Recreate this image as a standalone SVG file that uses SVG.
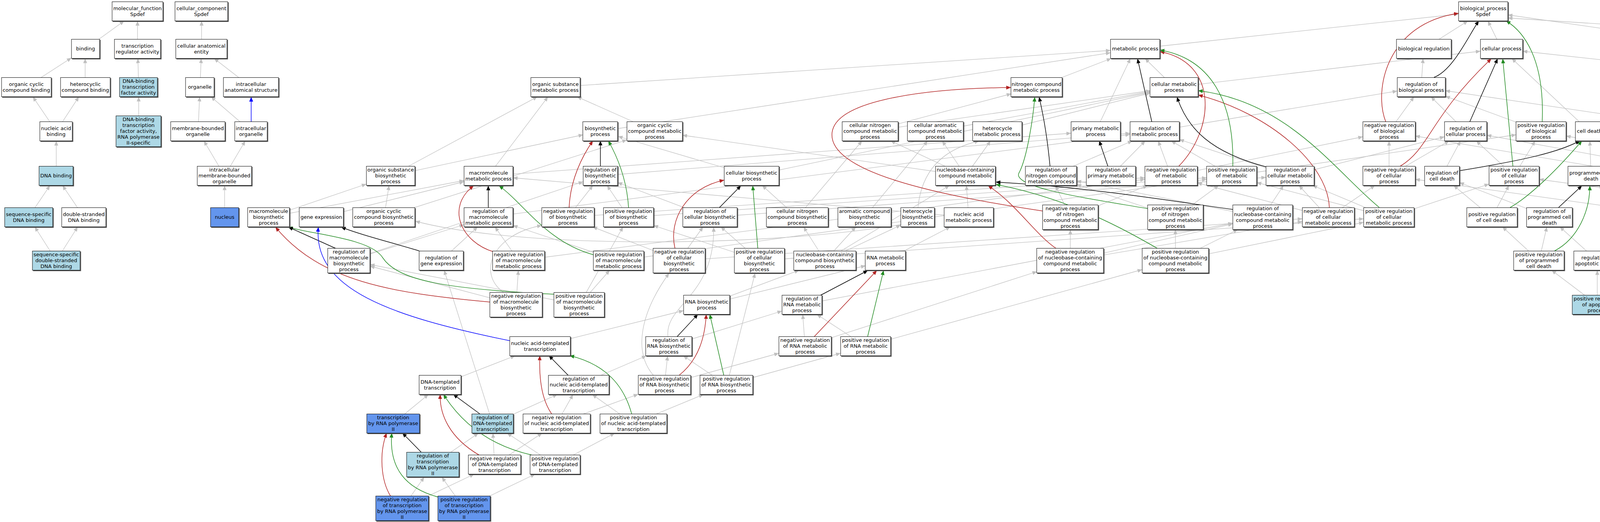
<svg xmlns="http://www.w3.org/2000/svg" width="5919" height="1336" viewBox="0 0 5919 1336">
<defs>
<style>
.b{stroke:#000;stroke-width:1;filter:url(#sh)}
.w{fill:#fff}.lb{fill:#add8e6}.cb{fill:#6495ed}
text{font-family:"DejaVu Sans","Liberation Sans",sans-serif;font-size:13px;text-anchor:middle;fill:#000}
#edges path{fill:none;stroke-width:1.3}
#edges .g{stroke:#c0c0c0;marker-end:url(#mg)}
#edges .k{stroke:#000;marker-end:url(#mk);stroke-width:1.5}
#edges .r{stroke:#b22222;marker-end:url(#mr);stroke-width:1.5}
#edges .gr{stroke:#228b22;marker-end:url(#mgr);stroke-width:1.5}
#edges .bl{stroke:#0000ff;marker-end:url(#mb);stroke-width:1.5}
</style>
<filter id="sh" x="-5%" y="-5%" width="115%" height="125%"><feDropShadow dx="2" dy="2" stdDeviation="0" flood-color="#555" flood-opacity="1"/></filter>
<marker id="mg" viewBox="0 0 12 10" refX="12" refY="5" markerWidth="12" markerHeight="10" markerUnits="userSpaceOnUse" orient="auto"><path d="M0,0L12,5L0,10z" fill="#c0c0c0"/></marker>
<marker id="mk" viewBox="0 0 12 10" refX="12" refY="5" markerWidth="12" markerHeight="10" markerUnits="userSpaceOnUse" orient="auto"><path d="M0,0L12,5L0,10z" fill="#000"/></marker>
<marker id="mr" viewBox="0 0 12 10" refX="12" refY="5" markerWidth="12" markerHeight="10" markerUnits="userSpaceOnUse" orient="auto"><path d="M0,0L12,5L0,10z" fill="#b22222"/></marker>
<marker id="mgr" viewBox="0 0 12 10" refX="12" refY="5" markerWidth="12" markerHeight="10" markerUnits="userSpaceOnUse" orient="auto"><path d="M0,0L12,5L0,10z" fill="#228b22"/></marker>
<marker id="mb" viewBox="0 0 12 10" refX="12" refY="5" markerWidth="12" markerHeight="10" markerUnits="userSpaceOnUse" orient="auto"><path d="M0,0L12,5L0,10z" fill="#0000ff"/></marker>
</defs>
<rect width="5919" height="1336" fill="#fff"/>
<g id="edges">
<path class="g" d="M219,125L318,53.5"/>
<path class="g" d="M352,125L352,53.5"/>
<path class="g" d="M67,223L183,148"/>
<path class="g" d="M218,223L218,149.5"/>
<path class="g" d="M355,223L353,149.5"/>
<path class="g" d="M144,336L84,247.5"/>
<path class="g" d="M144,336L202,247.5"/>
<path class="g" d="M355,336L355,247.5"/>
<path class="g" d="M144,450L144,360.5"/>
<path class="g" d="M73,556L128,474.5"/>
<path class="g" d="M215,556L160,474.5"/>
<path class="g" d="M144,667L89,580.5"/>
<path class="g" d="M144,667L199,580.5"/>
<path class="g" d="M516,125L516,53.5"/>
<path class="g" d="M512,223L515,149.5"/>
<path class="g" d="M643,223L548,149.5"/>
<path class="g" d="M507,336L511,247.5"/>
<path class="g" d="M643,336L540,247.5"/>
<path class="g" d="M575,450L522,360.5"/>
<path class="g" d="M575,450L628,360.5"/>
<path class="g" d="M575,556L575,474.5"/>
<path class="g" d="M3645,125L3758,53.5"/>
<path class="g" d="M3844,125L3809,53.5"/>
<path class="g" d="M2906,125L3734,36"/>
<path class="g" d="M4466,125L3860,38"/>
<path class="g" d="M5089,125L3860,46"/>
<path class="g" d="M3638,223L3643,149.5"/>
<path class="g" d="M2654,223L2845,149.5"/>
<path class="g" d="M3006,223L2931,149.5"/>
<path class="g" d="M3006,223L3790,131"/>
<path class="g" d="M1422,223L2843,129"/>
<path class="g" d="M2805,336L2894,149.5"/>
<path class="g" d="M1537,336L2843,135"/>
<path class="g" d="M4740,223L3898,131"/>
<path class="g" d="M4740,223L4519,144"/>
<path class="g" d="M5370,223L4519,131"/>
<path class="g" d="M4069,336L3870,149.5"/>
<path class="g" d="M3556,336L3620,247.5"/>
<path class="g" d="M3752,336L3663,247.5"/>
<path class="g" d="M3945,336L3700,246"/>
<path class="g" d="M3556,450L3556,360.5"/>
<path class="g" d="M3556,450L3710,360.5"/>
<path class="g" d="M3876,450L3779,360.5"/>
<path class="g" d="M3876,450L3930,360.5"/>
<path class="g" d="M2956,336L3577,233"/>
<path class="g" d="M4403,336L3700,232"/>
<path class="g" d="M4222,450L4364,360.5"/>
<path class="g" d="M4222,450L3623,348"/>
<path class="g" d="M4577,450L4440,360.5"/>
<path class="g" d="M4577,450L4009,348"/>
<path class="g" d="M3691,450L3739,360.5"/>
<path class="g" d="M3819,556L3721,474.5"/>
<path class="g" d="M3819,556L3863,474.5"/>
<path class="g" d="M4073,450L4070,360.5"/>
<path class="g" d="M3966,556L3736,467"/>
<path class="g" d="M3940,667L3960,580.5"/>
<path class="g" d="M3940,667L3846,580.5"/>
<path class="g" d="M4161,556L4093,474.5"/>
<path class="g" d="M4089,667L3993,580.5"/>
<path class="g" d="M4089,780L4089,691.5"/>
<path class="g" d="M4089,780L3972,691.5"/>
<path class="g" d="M4740,336L4740,247.5"/>
<path class="g" d="M4376,450L4397,360.5"/>
<path class="g" d="M4376,450L3806,346"/>
<path class="g" d="M4317,556L4362,474.5"/>
<path class="g" d="M4317,556L4244,474.5"/>
<path class="g" d="M4317,556L3623,459"/>
<path class="g" d="M4656,556L4439,474"/>
<path class="g" d="M4656,556L4595,474.5"/>
<path class="g" d="M4656,556L3940,459"/>
<path class="g" d="M4486,556L4401,474.5"/>
<path class="g" d="M4486,667L4486,580.5"/>
<path class="g" d="M4486,667L4354,580.5"/>
<path class="g" d="M4656,667L4524,580.5"/>
<path class="g" d="M4656,667L4656,580.5"/>
<path class="g" d="M4949,667L4852,474.5"/>
<path class="g" d="M5099,450L4779,247.5"/>
<path class="g" d="M5025,886L4998,804.5"/>
<path class="g" d="M5033,985L5027,910.5"/>
<path class="g" d="M5150,1084L5062,1009.5"/>
<path class="g" d="M5150,1084L5159,804.5"/>
<path class="g" d="M5265,336L5347,247.5"/>
<path class="g" d="M5265,450L5265,360.5"/>
<path class="g" d="M5418,450L5375,247.5"/>
<path class="g" d="M5588,336L5417,247.5"/>
<path class="g" d="M5528,556L5553,474.5"/>
<path class="g" d="M5686,556L5712,474.5"/>
<path class="g" d="M5833,556L5624,474.5"/>
<path class="g" d="M5686,556L5464,468"/>
<path class="g" d="M5468,667L5424,474.5"/>
<path class="g" d="M5683,667L5684,580.5"/>
<path class="g" d="M5282,667L5120,474.5"/>
<path class="g" d="M5148,667L5108,580.5"/>
<path class="g" d="M5160,780L5151,691.5"/>
<path class="g" d="M5313,780L5289,691.5"/>
<path class="g" d="M5254,886L5299,804.5"/>
<path class="g" d="M5410,886L5335,804.5"/>
<path class="g" d="M5598,780L5213,683"/>
<path class="g" d="M5454,780L5279,474.5"/>
<path class="g" d="M5740,780L5695,691.5"/>
<path class="g" d="M5584,886L5484,804.5"/>
<path class="g" d="M1676,336L1477,247.5"/>
<path class="g" d="M1000,450L1376,247.5"/>
<path class="g" d="M1000,450L1493,345"/>
<path class="g" d="M1250,450L1403,247.5"/>
<path class="g" d="M1250,450L2742,341"/>
<path class="g" d="M688,556L1188,462"/>
<path class="g" d="M688,556L938,471"/>
<path class="g" d="M822,556L1188,465"/>
<path class="g" d="M983,556L996,474.5"/>
<path class="g" d="M983,556L1605,358"/>
<path class="g" d="M2213,556L2375,360.5"/>
<path class="g" d="M2041,556L2207,360.5"/>
<path class="g" d="M2041,556L1951,474.5"/>
<path class="g" d="M2112,667L2057,580.5"/>
<path class="g" d="M2112,667L2191,580.5"/>
<path class="g" d="M2112,667L2306,576"/>
<path class="g" d="M2112,667L2431,474.5"/>
<path class="g" d="M1809,780L2046,691.5"/>
<path class="g" d="M1809,780L2216,680"/>
<path class="g" d="M1382,886L1750,795"/>
<path class="g" d="M1127,985L1319,910.5"/>
<path class="g" d="M1006,1084L1097,1009.5"/>
<path class="g" d="M1924,450L1582,349"/>
<path class="g" d="M1924,450L2945,236"/>
<path class="g" d="M2228,336L2589,240"/>
<path class="g" d="M2228,336L2945,232"/>
<path class="g" d="M2395,336L2945,234"/>
<path class="g" d="M2472,450L1747,346"/>
<path class="g" d="M2553,336L2945,238"/>
<path class="g" d="M2472,450L2280,360.5"/>
<path class="g" d="M2472,450L2412,360.5"/>
<path class="g" d="M2472,450L2536,360.5"/>
<path class="g" d="M2480,556L2474,474.5"/>
<path class="g" d="M2480,556L1313,455"/>
<path class="g" d="M2267,667L2433,580.5"/>
<path class="g" d="M1250,556L2893,344"/>
<path class="g" d="M1328,667L1267,580.5"/>
<path class="g" d="M1328,667L2931,459"/>
<path class="g" d="M1583,667L1313,577"/>
<path class="g" d="M1583,667L3089,459"/>
<path class="g" d="M1129,667L1223,580.5"/>
<path class="g" d="M893,667L1188,575"/>
<path class="g" d="M893,667L1493,465"/>
<path class="g" d="M1321,780L947,681"/>
<path class="g" d="M1321,780L1327,691.5"/>
<path class="g" d="M1483,780L947,677"/>
<path class="g" d="M1483,780L1561,691.5"/>
<path class="g" d="M1483,780L1595,580.5"/>
<path class="g" d="M1537,450L2893,341"/>
<path class="g" d="M1454,556L1518,474.5"/>
<path class="g" d="M1454,556L2931,455"/>
<path class="g" d="M1609,556L1554,474.5"/>
<path class="g" d="M1609,556L3089,455"/>
<path class="g" d="M1817,556L1581,467"/>
<path class="g" d="M1817,556L3241,454"/>
<path class="g" d="M1738,667L1800,580.5"/>
<path class="g" d="M1738,667L1517,580.5"/>
<path class="g" d="M1738,667L3334,560"/>
<path class="g" d="M1944,667L1845,580.5"/>
<path class="g" d="M1944,667L1673,577"/>
<path class="g" d="M1944,667L3491,560"/>
<path class="g" d="M1712,886L2002,796"/>
<path class="g" d="M1701,985L1709,910.5"/>
<path class="g" d="M1701,985L1994,904"/>
<path class="g" d="M1860,985L1749,910.5"/>
<path class="g" d="M1860,985L2152,904"/>
<path class="g" d="M1481,985L1655,910.5"/>
<path class="g" d="M1425,1084L1467,1009.5"/>
<path class="g" d="M1425,1084L1634,1009"/>
<path class="g" d="M1621,1084L1516,1009.5"/>
<path class="g" d="M1621,1084L1801,1009.5"/>
<path class="g" d="M1261,1084L1427,1009.5"/>
<path class="g" d="M1261,1084L1137,691.5"/>
<path class="g" d="M1266,1189L1262,1108.5"/>
<path class="g" d="M1266,1189L1388,1108.5"/>
<path class="g" d="M1421,1189L1298,1108.5"/>
<path class="g" d="M1421,1189L1574,1108.5"/>
<path class="g" d="M1108,1189L1225,1108.5"/>
<path class="g" d="M1030,1301L1086,1221"/>
<path class="g" d="M1030,1301L1214,1213.5"/>
<path class="g" d="M1188,1301L1131,1221"/>
<path class="g" d="M1188,1301L1370,1213.5"/>
<path class="g" d="M2053,780L3156,571"/>
<path class="g" d="M2061,886L2055,804.5"/>
<path class="g" d="M2061,886L2655,695"/>
<path class="g" d="M2216,886L2091,804.5"/>
<path class="g" d="M2216,886L2924,690"/>
<path class="g" d="M2690,450L2899,360.5"/>
<path class="g" d="M2844,450L2932,360.5"/>
<path class="g" d="M2998,450L2965,360.5"/>
<path class="g" d="M2998,450L3489,350"/>
<path class="g" d="M3153,450L2998,360.5"/>
<path class="g" d="M3153,450L3881,345"/>
<path class="g" d="M3302,450L3019,357"/>
<path class="g" d="M3302,450L3698,350"/>
<path class="g" d="M2740,556L2702,474.5"/>
<path class="g" d="M2740,556L2938,474.5"/>
<path class="g" d="M3009,556L2756,472"/>
<path class="g" d="M3009,556L3120,474.5"/>
<path class="g" d="M3232,556L3286,474.5"/>
<path class="g" d="M3232,556L2756,463"/>
<path class="g" d="M2740,667L2740,587.5"/>
<path class="g" d="M2740,667L3156,573"/>
<path class="g" d="M2740,667L3334,567"/>
<path class="g" d="M3009,667L3009,587.5"/>
<path class="g" d="M3009,667L3169,587.5"/>
<path class="g" d="M3009,667L3491,569"/>
<path class="g" d="M3400,556L3325,474.5"/>
<path class="g" d="M3400,556L3065,468"/>
<path class="g" d="M3400,556L3520,474.5"/>
<path class="g" d="M3555,556L3360,474.5"/>
<path class="g" d="M3555,556L3217,467"/>
<path class="g" d="M3555,556L3812,471"/>
<path class="g" d="M5107,425C5150,330 5200,280 5300,243"/>
<path class="g" d="M5573,313C5500,240 5350,160 5157,128"/>
<path class="g" d="M5516,425C5470,400 5420,330 5384,248"/>
<path class="g" d="M5665,428C5500,400 5470,300 5405,248"/>
<path class="g" d="M5864,642C5920,600 5940,500 5784,459"/>
<path class="g" d="M4935,756C4840,700 4870,640 4920,590C4980,530 4950,420 4804,359"/>
<path class="g" d="M4963,875C4890,850 4870,780 4944,722C5000,700 5060,660 5091,581"/>
<path class="g" d="M4840,425C4845,350 4820,290 4782,248"/>
<path class="g" d="M5077,531C5040,460 4950,400 4804,360"/>
<path class="g" d="M1710,862C1700,780 1830,760 1827,581"/>
<path class="g" d="M1673,961C1620,900 1640,800 1713,699"/>
<path class="g" d="M1867,961L1933,699"/>
<path class="g" d="M1290,749C1220,700 1260,600 1387,577"/>
<path class="g" d="M2350,531C2360,430 2420,380 2507,361"/>
<path class="g" d="M2306,575C1900,640 1300,630 1063,566"/>
<path class="r" d="M3548,313C3515,230 3550,60 3734,34"/>
<path class="r" d="M3018,425C3110,330 3120,160 2969,132"/>
<path class="r" d="M3585,425C3660,380 3660,300 3818,150"/>
<path class="r" d="M3403,531C3400,420 3250,290 3067,243"/>
<path class="r" d="M2669,540C2400,500 2120,440 2130,340C2140,250 2400,226 2588,224"/>
<path class="r" d="M2704,636C2650,600 2600,520 2529,475"/>
<path class="r" d="M1265,645C1180,620 1140,530 1213,475"/>
<path class="r" d="M1254,773C1000,750 820,720 705,581"/>
<path class="r" d="M1457,531C1460,460 1490,400 1518,360"/>
<path class="r" d="M1728,636C1710,560 1760,480 1854,461"/>
<path class="r" d="M1738,961C1790,920 1805,860 1808,804"/>
<path class="r" d="M2084,862L2245,692"/>
<path class="r" d="M1412,1059C1385,1020 1380,960 1382,910"/>
<path class="r" d="M1227,1165C1150,1120 1125,1060 1127,1009"/>
<path class="r" d="M1000,1270C975,1230 970,1160 990,1108"/>
<path class="r" d="M4240,425L4450,150"/>
<path class="r" d="M4375,531C4500,505 4660,500 4729,361"/>
<path class="r" d="M4554,642C4650,620 4760,600 4825,475"/>
<path class="gr" d="M3948,313C3955,150 3900,80 3855,53"/>
<path class="gr" d="M3156,425C3160,260 3100,150 2969,128"/>
<path class="gr" d="M3873,425L3847,150"/>
<path class="gr" d="M3531,531C3420,440 3300,260 3067,232"/>
<path class="gr" d="M2938,534C2800,510 2580,480 2610,440C2630,400 2645,300 2649,248"/>
<path class="gr" d="M2974,642C2900,600 2750,510 2549,472"/>
<path class="gr" d="M1519,652C1400,620 1340,520 1277,475"/>
<path class="gr" d="M1418,753C1150,740 1020,720 980,660C950,610 800,600 737,581"/>
<path class="gr" d="M1609,531C1605,460 1580,400 1557,360"/>
<path class="gr" d="M1940,636L1927,475"/>
<path class="gr" d="M1853,961L1817,804"/>
<path class="gr" d="M2221,862L2262,692"/>
<path class="gr" d="M1617,1059C1590,960 1520,925 1458,910"/>
<path class="gr" d="M1363,1165C1250,1140 1180,1080 1135,1009"/>
<path class="gr" d="M1121,1272C1040,1250 995,1200 1003,1108"/>
<path class="gr" d="M3866,531C3920,500 3990,430 4050,360"/>
<path class="gr" d="M3980,642C4040,610 4070,540 4070,475"/>
<path class="gr" d="M4120,756C4170,720 4180,640 4168,581"/>
<path class="gr" d="M4569,425L4475,150"/>
<path class="gr" d="M4669,531L4734,361"/>
<path class="gr" d="M4720,642C4800,610 4830,530 4835,475"/>
<path class="k" d="M3671,198C3720,180 3760,90 3786,53"/>
<path class="k" d="M2949,313L2912,150"/>
<path class="k" d="M3762,313L3834,150"/>
<path class="k" d="M3241,427C3100,390 3040,330 3013,248"/>
<path class="k" d="M2688,425C2680,340 2670,290 2660,248"/>
<path class="k" d="M2836,425L2814,360"/>
<path class="k" d="M3156,536C3000,515 2800,480 2549,466"/>
<path class="k" d="M1250,531L1250,475"/>
<path class="k" d="M860,636L738,581"/>
<path class="k" d="M1073,642C1000,620 920,600 873,581"/>
<path class="k" d="M1537,425L1537,360"/>
<path class="k" d="M1842,531L1897,475"/>
<path class="k" d="M1733,862L1787,804"/>
<path class="k" d="M2100,756L2222,692"/>
<path class="k" d="M1455,961L1405,910"/>
<path class="k" d="M1228,1059L1160,1009"/>
<path class="k" d="M1078,1157L1030,1108"/>
<path class="k" d="M3736,437C3900,410 3990,390 4045,360"/>
<path class="k" d="M3990,531L4050,475"/>
<path class="k" d="M4103,642L4145,581"/>
<path class="k" d="M4410,313L4465,150"/>
<path class="k" d="M4439,432L4677,358"/>
<path class="k" d="M4549,531L4767,470"/>
<path class="bl" d="M643,313L643,248"/>
<path class="bl" d="M1305,872C1000,810 800,740 815,581"/>
<path class="bl" d="M4819,425L4762,361"/>
<path class="bl" d="M5040,431L4803,356"/>
<path class="bl" d="M5138,531L5232,475"/>
<path class="bl" d="M5244,642L5141,581"/>
<path class="bl" d="M4981,642L5064,581"/>
<path class="bl" d="M5277,756L5187,692"/>
<path class="bl" d="M5234,862L5184,805"/>
<path class="bl" d="M5201,1059L5533,910"/>
<path class="bl" d="M5088,872L5409,805"/>
<path class="bl" d="M5054,756L5406,687"/>
<path class="bl" d="M5566,425L5583,361"/>
<path class="bl" d="M5693,425L5616,361"/>
<path class="bl" d="M5479,642L5514,581"/>
<path class="bl" d="M5513,642L5639,581"/>
<path class="bl" d="M5651,642L5563,581"/>
<path class="bl" d="M5835,642L5834,581"/>
<path class="bl" d="M5458,756L5464,692"/>
<path class="bl" d="M5651,756L5790,692"/>
<path class="bl" d="M5619,862L5703,805"/>
<path class="bl" d="M5449,862L5554,805"/>
</g>
<g id="nodes">
<g id="n-MF"><rect class="b w" x="287" y="4.5" width="130" height="49"/><text x="352" y="25.5">molecular_function<tspan x="352" dy="15">Spdef</tspan></text></g>
<g id="n-CC"><rect class="b w" x="448" y="4.5" width="135" height="49"/><text x="515.5" y="25.5">cellular_component<tspan x="515.5" dy="15">Spdef</tspan></text></g>
<g id="n-BP"><rect class="b w" x="3734" y="4.5" width="126" height="49"/><text x="3797" y="25.5">biological_process<tspan x="3797" dy="15">Spdef</tspan></text></g>
<g id="n-BIND"><rect class="b w" x="183" y="100.5" width="72" height="49"/><text x="219" y="129">binding</text></g>
<g id="n-TRA"><rect class="b w" x="293" y="100.5" width="118" height="49"/><text x="352" y="121.5">transcription<tspan x="352" dy="15">regulator activity</tspan></text></g>
<g id="n-CAE"><rect class="b w" x="450" y="100.5" width="131" height="49"/><text x="515.5" y="121.5">cellular anatomical<tspan x="515.5" dy="15">entity</tspan></text></g>
<g id="n-MP"><rect class="b w" x="2843" y="100.5" width="126" height="49"/><text x="2906" y="129">metabolic process</text></g>
<g id="n-BR"><rect class="b w" x="3575" y="100.5" width="140" height="49"/><text x="3645" y="129">biological regulation</text></g>
<g id="n-CP"><rect class="b w" x="3790" y="100.5" width="108" height="49"/><text x="3844" y="129">cellular process</text></g>
<g id="n-DP"><rect class="b w" x="4414" y="100.5" width="105" height="49"/><text x="4466.5" y="121.5">developmental<tspan x="4466.5" dy="15">process</tspan></text></g>
<g id="n-MOP"><rect class="b w" x="5022" y="100.5" width="134" height="49"/><text x="5089" y="121.5">multicellular<tspan x="5089" dy="15">organismal process</tspan></text></g>
<g id="n-OCCB"><rect class="b w" x="4" y="198.5" width="127" height="49"/><text x="67.5" y="219.5">organic cyclic<tspan x="67.5" dy="15">compound binding</tspan></text></g>
<g id="n-HCB"><rect class="b w" x="155" y="198.5" width="127" height="49"/><text x="218.5" y="219.5">heterocyclic<tspan x="218.5" dy="15">compound binding</tspan></text></g>
<g id="n-DBTFA"><rect class="b lb" x="306" y="198.5" width="97" height="49"/><text x="354.5" y="212">DNA-binding<tspan x="354.5" dy="15">transcription</tspan><tspan x="354.5" dy="15">factor activity</tspan></text></g>
<g id="n-ORG"><rect class="b w" x="475" y="198.5" width="73" height="49"/><text x="511.5" y="227">organelle</text></g>
<g id="n-IAS"><rect class="b w" x="572" y="198.5" width="141" height="49"/><text x="642.5" y="219.5">intracellular<tspan x="642.5" dy="15">anatomical structure</tspan></text></g>
<g id="n-OSMP"><rect class="b w" x="1359" y="198.5" width="126" height="49"/><text x="1422" y="219.5">organic substance<tspan x="1422" dy="15">metabolic process</tspan></text></g>
<g id="n-NCMP"><rect class="b w" x="2588" y="198.5" width="131" height="49"/><text x="2653.5" y="219.5">nitrogen compound<tspan x="2653.5" dy="15">metabolic process</tspan></text></g>
<g id="n-CMP"><rect class="b w" x="2944" y="198.5" width="123" height="49"/><text x="3005.5" y="219.5">cellular metabolic<tspan x="3005.5" dy="15">process</tspan></text></g>
<g id="n-RBP"><rect class="b w" x="3577" y="198.5" width="123" height="49"/><text x="3638.5" y="219.5">regulation of<tspan x="3638.5" dy="15">biological process</tspan></text></g>
<g id="n-CDP"><rect class="b w" x="4662" y="198.5" width="156" height="49"/><text x="4740" y="219.5">cellular developmental<tspan x="4740" dy="15">process</tspan></text></g>
<g id="n-ASD"><rect class="b w" x="5300" y="198.5" width="141" height="49"/><text x="5370.5" y="219.5">anatomical structure<tspan x="5370.5" dy="15">development</tspan></text></g>
<g id="n-NAB"><rect class="b w" x="102" y="311.5" width="83" height="49"/><text x="143.5" y="332.5">nucleic acid<tspan x="143.5" dy="15">binding</tspan></text></g>
<g id="n-DBTFA2"><rect class="b lb" x="297" y="296.5" width="115" height="79"/><text x="354.5" y="310">DNA-binding<tspan x="354.5" dy="15">transcription</tspan><tspan x="354.5" dy="15">factor activity,</tspan><tspan x="354.5" dy="15">RNA polymerase</tspan><tspan x="354.5" dy="15">II-specific</tspan></text></g>
<g id="n-MBO"><rect class="b w" x="437" y="311.5" width="139" height="49"/><text x="506.5" y="332.5">membrane-bounded<tspan x="506.5" dy="15">organelle</tspan></text></g>
<g id="n-IO"><rect class="b w" x="601" y="311.5" width="83" height="49"/><text x="642.5" y="332.5">intracellular<tspan x="642.5" dy="15">organelle</tspan></text></g>
<g id="n-BSP"><rect class="b w" x="1492" y="311.5" width="89" height="49"/><text x="1536.5" y="332.5">biosynthetic<tspan x="1536.5" dy="15">process</tspan></text></g>
<g id="n-OCCMP"><rect class="b w" x="1605" y="311.5" width="142" height="49"/><text x="1676" y="325">organic cyclic<tspan x="1676" dy="15">compound metabolic</tspan><tspan x="1676" dy="15">process</tspan></text></g>
<g id="n-CNCMP"><rect class="b w" x="2156" y="311.5" width="143" height="49"/><text x="2227.5" y="325">cellular nitrogen<tspan x="2227.5" dy="15">compound metabolic</tspan><tspan x="2227.5" dy="15">process</tspan></text></g>
<g id="n-CACMP"><rect class="b w" x="2323" y="311.5" width="143" height="49"/><text x="2394.5" y="325">cellular aromatic<tspan x="2394.5" dy="15">compound metabolic</tspan><tspan x="2394.5" dy="15">process</tspan></text></g>
<g id="n-HMP"><rect class="b w" x="2490" y="311.5" width="126" height="49"/><text x="2553" y="332.5">heterocycle<tspan x="2553" dy="15">metabolic process</tspan></text></g>
<g id="n-PMP"><rect class="b w" x="2742" y="311.5" width="126" height="49"/><text x="2805" y="332.5">primary metabolic<tspan x="2805" dy="15">process</tspan></text></g>
<g id="n-RMP"><rect class="b w" x="2893" y="311.5" width="126" height="49"/><text x="2956" y="332.5">regulation of<tspan x="2956" dy="15">metabolic process</tspan></text></g>
<g id="n-NRBP"><rect class="b w" x="3489" y="311.5" width="134" height="49"/><text x="3556" y="325">negative regulation<tspan x="3556" dy="15">of biological</tspan><tspan x="3556" dy="15">process</tspan></text></g>
<g id="n-RCP"><rect class="b w" x="3698" y="311.5" width="108" height="49"/><text x="3752" y="332.5">regulation of<tspan x="3752" dy="15">cellular process</tspan></text></g>
<g id="n-PRBP"><rect class="b w" x="3881" y="311.5" width="128" height="49"/><text x="3945" y="325">positive regulation<tspan x="3945" dy="15">of biological</tspan><tspan x="3945" dy="15">process</tspan></text></g>
<g id="n-CD"><rect class="b w" x="4033" y="311.5" width="72" height="49"/><text x="4069" y="340">cell death</text></g>
<g id="n-RDP"><rect class="b w" x="4351" y="311.5" width="105" height="49"/><text x="4403.5" y="325">regulation of<tspan x="4403.5" dy="15">developmental</tspan><tspan x="4403.5" dy="15">process</tspan></text></g>
<g id="n-CDIFF"><rect class="b lb" x="4677" y="311.5" width="126" height="49"/><text x="4740" y="340">cell differentiation</text></g>
<g id="n-TD"><rect class="b w" x="5198" y="311.5" width="134" height="49"/><text x="5265" y="340">tissue development</text></g>
<g id="n-MOD"><rect class="b w" x="5509" y="311.5" width="158" height="49"/><text x="5588" y="332.5">multicellular<tspan x="5588" dy="15">organism development</tspan></text></g>
<g id="n-DNAB"><rect class="b lb" x="100" y="425.5" width="87" height="49"/><text x="143.5" y="454">DNA binding</text></g>
<g id="n-IMBO"><rect class="b w" x="505" y="425.5" width="139" height="49"/><text x="574.5" y="439">intracellular<tspan x="574.5" dy="15">membrane-bounded</tspan><tspan x="574.5" dy="15">organelle</tspan></text></g>
<g id="n-OSBP"><rect class="b w" x="938" y="425.5" width="124" height="49"/><text x="1000" y="439">organic substance<tspan x="1000" dy="15">biosynthetic</tspan><tspan x="1000" dy="15">process</tspan></text></g>
<g id="n-MMP"><rect class="b w" x="1188" y="425.5" width="125" height="49"/><text x="1250.5" y="446.5">macromolecule<tspan x="1250.5" dy="15">metabolic process</tspan></text></g>
<g id="n-RBSP"><rect class="b w" x="1493" y="425.5" width="88" height="49"/><text x="1537" y="439">regulation of<tspan x="1537" dy="15">biosynthetic</tspan><tspan x="1537" dy="15">process</tspan></text></g>
<g id="n-CBSP"><rect class="b w" x="1854" y="425.5" width="140" height="49"/><text x="1924" y="446.5">cellular biosynthetic<tspan x="1924" dy="15">process</tspan></text></g>
<g id="n-NCCMP"><rect class="b w" x="2395" y="425.5" width="153" height="49"/><text x="2471.5" y="439">nucleobase-containing<tspan x="2471.5" dy="15">compound metabolic</tspan><tspan x="2471.5" dy="15">process</tspan></text></g>
<g id="n-RNCMP"><rect class="b w" x="2625" y="425.5" width="131" height="49"/><text x="2690.5" y="439">regulation of<tspan x="2690.5" dy="15">nitrogen compound</tspan><tspan x="2690.5" dy="15">metabolic process</tspan></text></g>
<g id="n-RPMP"><rect class="b w" x="2781" y="425.5" width="126" height="49"/><text x="2844" y="439">regulation of<tspan x="2844" dy="15">primary metabolic</tspan><tspan x="2844" dy="15">process</tspan></text></g>
<g id="n-NRMP"><rect class="b w" x="2931" y="425.5" width="134" height="49"/><text x="2998" y="439">negative regulation<tspan x="2998" dy="15">of metabolic</tspan><tspan x="2998" dy="15">process</tspan></text></g>
<g id="n-PRMP"><rect class="b w" x="3089" y="425.5" width="128" height="49"/><text x="3153" y="439">positive regulation<tspan x="3153" dy="15">of metabolic</tspan><tspan x="3153" dy="15">process</tspan></text></g>
<g id="n-RCMP"><rect class="b w" x="3241" y="425.5" width="123" height="49"/><text x="3302.5" y="439">regulation of<tspan x="3302.5" dy="15">cellular metabolic</tspan><tspan x="3302.5" dy="15">process</tspan></text></g>
<g id="n-NRCP"><rect class="b w" x="3489" y="425.5" width="134" height="49"/><text x="3556" y="439">negative regulation<tspan x="3556" dy="15">of cellular</tspan><tspan x="3556" dy="15">process</tspan></text></g>
<g id="n-RCD"><rect class="b w" x="3647" y="425.5" width="89" height="49"/><text x="3691.5" y="446.5">regulation of<tspan x="3691.5" dy="15">cell death</tspan></text></g>
<g id="n-PRCP"><rect class="b w" x="3812" y="425.5" width="128" height="49"/><text x="3876" y="439">positive regulation<tspan x="3876" dy="15">of cellular</tspan><tspan x="3876" dy="15">process</tspan></text></g>
<g id="n-PCD"><rect class="b w" x="4014" y="425.5" width="118" height="49"/><text x="4073" y="446.5">programmed cell<tspan x="4073" dy="15">death</tspan></text></g>
<g id="n-NRDP"><rect class="b w" x="4156" y="425.5" width="133" height="49"/><text x="4222.5" y="439">negative regulation<tspan x="4222.5" dy="15">of developmental</tspan><tspan x="4222.5" dy="15">process</tspan></text></g>
<g id="n-RCDIFF"><rect class="b w" x="4313" y="425.5" width="126" height="49"/><text x="4376" y="446.5">regulation of<tspan x="4376" dy="15">cell differentiation</tspan></text></g>
<g id="n-PRDP"><rect class="b w" x="4513" y="425.5" width="128" height="49"/><text x="4577" y="439">positive regulation<tspan x="4577" dy="15">of developmental</tspan><tspan x="4577" dy="15">process</tspan></text></g>
<g id="n-CFC"><rect class="b cb" x="4767" y="425.5" width="146" height="49"/><text x="4840" y="454">cell fate commitment</text></g>
<g id="n-CDEV"><rect class="b w" x="5040" y="425.5" width="118" height="49"/><text x="5099" y="454">cell development</text></g>
<g id="n-ED"><rect class="b w" x="5182" y="425.5" width="166" height="49"/><text x="5265" y="454">epithelium development</text></g>
<g id="n-AOD"><rect class="b w" x="5372" y="425.5" width="92" height="49"/><text x="5418" y="446.5">animal organ<tspan x="5418" dy="15">development</tspan></text></g>
<g id="n-SD"><rect class="b w" x="5489" y="425.5" width="144" height="49"/><text x="5561" y="454">system development</text></g>
<g id="n-TUBD"><rect class="b w" x="5657" y="425.5" width="126" height="49"/><text x="5720" y="454">tube development</text></g>
<g id="n-SSDB"><rect class="b lb" x="12" y="531.5" width="123" height="49"/><text x="73.5" y="552.5">sequence-specific<tspan x="73.5" dy="15">DNA binding</tspan></text></g>
<g id="n-DSDB"><rect class="b w" x="158" y="531.5" width="113" height="49"/><text x="214.5" y="552.5">double-stranded<tspan x="214.5" dy="15">DNA binding</tspan></text></g>
<g id="n-NUC"><rect class="b cb" x="539" y="531.5" width="72" height="49"/><text x="575" y="560">nucleus</text></g>
<g id="n-MBSP"><rect class="b w" x="634" y="531.5" width="107" height="49"/><text x="687.5" y="545">macromolecule<tspan x="687.5" dy="15">biosynthetic</tspan><tspan x="687.5" dy="15">process</tspan></text></g>
<g id="n-GE"><rect class="b w" x="766" y="531.5" width="113" height="49"/><text x="822.5" y="560">gene expression</text></g>
<g id="n-OCCBSP"><rect class="b w" x="903" y="531.5" width="159" height="49"/><text x="982.5" y="545">organic cyclic<tspan x="982.5" dy="15">compound biosynthetic</tspan><tspan x="982.5" dy="15">process</tspan></text></g>
<g id="n-RMMP"><rect class="b w" x="1188" y="531.5" width="125" height="49"/><text x="1250.5" y="545">regulation of<tspan x="1250.5" dy="15">macromolecule</tspan><tspan x="1250.5" dy="15">metabolic process</tspan></text></g>
<g id="n-NRBSP"><rect class="b w" x="1387" y="531.5" width="134" height="49"/><text x="1454" y="545">negative regulation<tspan x="1454" dy="15">of biosynthetic</tspan><tspan x="1454" dy="15">process</tspan></text></g>
<g id="n-PRBSP"><rect class="b w" x="1545" y="531.5" width="128" height="49"/><text x="1609" y="545">positive regulation<tspan x="1609" dy="15">of biosynthetic</tspan><tspan x="1609" dy="15">process</tspan></text></g>
<g id="n-RCBSP"><rect class="b w" x="1748" y="531.5" width="139" height="49"/><text x="1817.5" y="545">regulation of<tspan x="1817.5" dy="15">cellular biosynthetic</tspan><tspan x="1817.5" dy="15">process</tspan></text></g>
<g id="n-CNCBSP"><rect class="b w" x="1962" y="531.5" width="158" height="49"/><text x="2041" y="545">cellular nitrogen<tspan x="2041" dy="15">compound biosynthetic</tspan><tspan x="2041" dy="15">process</tspan></text></g>
<g id="n-ACBSP"><rect class="b w" x="2145" y="531.5" width="136" height="49"/><text x="2213" y="545">aromatic compound<tspan x="2213" dy="15">biosynthetic</tspan><tspan x="2213" dy="15">process</tspan></text></g>
<g id="n-HBSP"><rect class="b w" x="2306" y="531.5" width="86" height="49"/><text x="2349" y="545">heterocycle<tspan x="2349" dy="15">biosynthetic</tspan><tspan x="2349" dy="15">process</tspan></text></g>
<g id="n-NAMP"><rect class="b w" x="2417" y="531.5" width="126" height="49"/><text x="2480" y="552.5">nucleic acid<tspan x="2480" dy="15">metabolic process</tspan></text></g>
<g id="n-NRNCMP"><rect class="b w" x="2669" y="524.5" width="142" height="63"/><text x="2740" y="537.5">negative regulation<tspan x="2740" dy="15">of nitrogen</tspan><tspan x="2740" dy="15">compound metabolic</tspan><tspan x="2740" dy="15">process</tspan></text></g>
<g id="n-PRNCMP"><rect class="b w" x="2938" y="524.5" width="142" height="63"/><text x="3009" y="537.5">positive regulation<tspan x="3009" dy="15">of nitrogen</tspan><tspan x="3009" dy="15">compound metabolic</tspan><tspan x="3009" dy="15">process</tspan></text></g>
<g id="n-RNCCMP"><rect class="b w" x="3156" y="524.5" width="153" height="63"/><text x="3232.5" y="537.5">regulation of<tspan x="3232.5" dy="15">nucleobase-containing</tspan><tspan x="3232.5" dy="15">compound metabolic</tspan><tspan x="3232.5" dy="15">process</tspan></text></g>
<g id="n-NRCMP"><rect class="b w" x="3334" y="531.5" width="133" height="49"/><text x="3400.5" y="545">negative regulation<tspan x="3400.5" dy="15">of cellular</tspan><tspan x="3400.5" dy="15">metabolic process</tspan></text></g>
<g id="n-PRCMP"><rect class="b w" x="3491" y="531.5" width="129" height="49"/><text x="3555.5" y="545">positive regulation<tspan x="3555.5" dy="15">of cellular</tspan><tspan x="3555.5" dy="15">metabolic process</tspan></text></g>
<g id="n-PRCD"><rect class="b w" x="3755" y="531.5" width="129" height="49"/><text x="3819.5" y="552.5">positive regulation<tspan x="3819.5" dy="15">of cell death</tspan></text></g>
<g id="n-RPCD"><rect class="b w" x="3908" y="531.5" width="117" height="49"/><text x="3966.5" y="545">regulation of<tspan x="3966.5" dy="15">programmed cell</tspan><tspan x="3966.5" dy="15">death</tspan></text></g>
<g id="n-AP"><rect class="b w" x="4101" y="531.5" width="121" height="49"/><text x="4161.5" y="560">apoptotic process</text></g>
<g id="n-NRCDIFF"><rect class="b w" x="4246" y="531.5" width="142" height="49"/><text x="4317" y="552.5">negative regulation<tspan x="4317" dy="15">of cell differentiation</tspan></text></g>
<g id="n-RCFC"><rect class="b w" x="4413" y="531.5" width="147" height="49"/><text x="4486.5" y="552.5">regulation of<tspan x="4486.5" dy="15">cell fate commitment</tspan></text></g>
<g id="n-PRCDIFF"><rect class="b w" x="4585" y="531.5" width="142" height="49"/><text x="4656" y="552.5">positive regulation<tspan x="4656" dy="15">of cell differentiation</tspan></text></g>
<g id="n-ECD"><rect class="b w" x="5048" y="531.5" width="98" height="49"/><text x="5097" y="552.5">epithelial cell<tspan x="5097" dy="15">differentiation</tspan></text></g>
<g id="n-RSD"><rect class="b w" x="5456" y="531.5" width="144" height="49"/><text x="5528" y="552.5">respiratory<tspan x="5528" dy="15">system development</tspan></text></g>
<g id="n-RTD"><rect class="b w" x="5624" y="531.5" width="125" height="49"/><text x="5686.5" y="552.5">respiratory<tspan x="5686.5" dy="15">tube development</tspan></text></g>
<g id="n-DSD"><rect class="b w" x="5774" y="531.5" width="118" height="49"/><text x="5833" y="552.5">digestive system<tspan x="5833" dy="15">development</tspan></text></g>
<g id="n-SSDSDB"><rect class="b lb" x="83" y="642.5" width="122" height="49"/><text x="144" y="656">sequence-specific<tspan x="144" dy="15">double-stranded</tspan><tspan x="144" dy="15">DNA binding</tspan></text></g>
<g id="n-RMBSP"><rect class="b w" x="839" y="635.5" width="108" height="63"/><text x="893" y="648.5">regulation of<tspan x="893" dy="15">macromolecule</tspan><tspan x="893" dy="15">biosynthetic</tspan><tspan x="893" dy="15">process</tspan></text></g>
<g id="n-RGE"><rect class="b w" x="1073" y="642.5" width="113" height="49"/><text x="1129.5" y="663.5">regulation of<tspan x="1129.5" dy="15">gene expression</tspan></text></g>
<g id="n-NRMMP"><rect class="b w" x="1261" y="642.5" width="133" height="49"/><text x="1327.5" y="656">negative regulation<tspan x="1327.5" dy="15">of macromolecule</tspan><tspan x="1327.5" dy="15">metabolic process</tspan></text></g>
<g id="n-PRMMP"><rect class="b w" x="1519" y="642.5" width="129" height="49"/><text x="1583.5" y="656">positive regulation<tspan x="1583.5" dy="15">of macromolecule</tspan><tspan x="1583.5" dy="15">metabolic process</tspan></text></g>
<g id="n-NRCBSP"><rect class="b w" x="1672" y="635.5" width="133" height="63"/><text x="1738.5" y="648.5">negative regulation<tspan x="1738.5" dy="15">of cellular</tspan><tspan x="1738.5" dy="15">biosynthetic</tspan><tspan x="1738.5" dy="15">process</tspan></text></g>
<g id="n-PRCBSP"><rect class="b w" x="1880" y="635.5" width="128" height="63"/><text x="1944" y="648.5">positive regulation<tspan x="1944" dy="15">of cellular</tspan><tspan x="1944" dy="15">biosynthetic</tspan><tspan x="1944" dy="15">process</tspan></text></g>
<g id="n-NCCBSP"><rect class="b w" x="2032" y="642.5" width="159" height="49"/><text x="2111.5" y="656">nucleobase-containing<tspan x="2111.5" dy="15">compound biosynthetic</tspan><tspan x="2111.5" dy="15">process</tspan></text></g>
<g id="n-RNAMP"><rect class="b w" x="2215" y="642.5" width="103" height="49"/><text x="2266.5" y="663.5">RNA metabolic<tspan x="2266.5" dy="15">process</tspan></text></g>
<g id="n-NRNCCMP"><rect class="b w" x="2654" y="635.5" width="171" height="63"/><text x="2739.5" y="648.5">negative regulation<tspan x="2739.5" dy="15">of nucleobase-containing</tspan><tspan x="2739.5" dy="15">compound metabolic</tspan><tspan x="2739.5" dy="15">process</tspan></text></g>
<g id="n-PRNCCMP"><rect class="b w" x="2924" y="635.5" width="170" height="63"/><text x="3009" y="648.5">positive regulation<tspan x="3009" dy="15">of nucleobase-containing</tspan><tspan x="3009" dy="15">compound metabolic</tspan><tspan x="3009" dy="15">process</tspan></text></g>
<g id="n-PRPCD"><rect class="b w" x="3875" y="642.5" width="129" height="49"/><text x="3939.5" y="656">positive regulation<tspan x="3939.5" dy="15">of programmed</tspan><tspan x="3939.5" dy="15">cell death</tspan></text></g>
<g id="n-RAP"><rect class="b w" x="4029" y="642.5" width="121" height="49"/><text x="4089.5" y="663.5">regulation of<tspan x="4089.5" dy="15">apoptotic process</tspan></text></g>
<g id="n-NRCFC"><rect class="b cb" x="4420" y="642.5" width="133" height="49"/><text x="4486.5" y="656">negative regulation<tspan x="4486.5" dy="15">of cell fate</tspan><tspan x="4486.5" dy="15">commitment</tspan></text></g>
<g id="n-PRCFC"><rect class="b cb" x="4591" y="642.5" width="129" height="49"/><text x="4655.5" y="656">positive regulation<tspan x="4655.5" dy="15">of cell fate</tspan><tspan x="4655.5" dy="15">commitment</tspan></text></g>
<g id="n-ECFC"><rect class="b cb" x="4889" y="642.5" width="120" height="49"/><text x="4949" y="663.5">epithelial cell<tspan x="4949" dy="15">fate commitment</tspan></text></g>
<g id="n-CCECD"><rect class="b w" x="5083" y="642.5" width="130" height="49"/><text x="5148" y="656">columnar/cuboidal<tspan x="5148" dy="15">epithelial cell</tspan><tspan x="5148" dy="15">differentiation</tspan></text></g>
<g id="n-ECDEV"><rect class="b w" x="5235" y="642.5" width="95" height="49"/><text x="5282.5" y="663.5">epithelial cell<tspan x="5282.5" dy="15">development</tspan></text></g>
<g id="n-LD"><rect class="b w" x="5406" y="642.5" width="124" height="49"/><text x="5468" y="671">lung development</text></g>
<g id="n-BD"><rect class="b w" x="5606" y="642.5" width="155" height="49"/><text x="5683.5" y="671">bronchus development</text></g>
<g id="n-DTD"><rect class="b w" x="5786" y="642.5" width="100" height="49"/><text x="5836" y="663.5">digestive tract<tspan x="5836" dy="15">development</tspan></text></g>
<g id="n-NRMBSP"><rect class="b w" x="1254" y="748.5" width="134" height="63"/><text x="1321" y="761.5">negative regulation<tspan x="1321" dy="15">of macromolecule</tspan><tspan x="1321" dy="15">biosynthetic</tspan><tspan x="1321" dy="15">process</tspan></text></g>
<g id="n-PRMBSP"><rect class="b w" x="1418" y="748.5" width="129" height="63"/><text x="1482.5" y="761.5">positive regulation<tspan x="1482.5" dy="15">of macromolecule</tspan><tspan x="1482.5" dy="15">biosynthetic</tspan><tspan x="1482.5" dy="15">process</tspan></text></g>
<g id="n-RNABSP"><rect class="b w" x="1750" y="755.5" width="118" height="49"/><text x="1809" y="776.5">RNA biosynthetic<tspan x="1809" dy="15">process</tspan></text></g>
<g id="n-RRNAMP"><rect class="b w" x="2002" y="755.5" width="102" height="49"/><text x="2053" y="769">regulation of<tspan x="2053" dy="15">RNA metabolic</tspan><tspan x="2053" dy="15">process</tspan></text></g>
<g id="n-PRAP"><rect class="b lb" x="4025" y="755.5" width="128" height="49"/><text x="4089" y="769">positive regulation<tspan x="4089" dy="15">of apoptotic</tspan><tspan x="4089" dy="15">process</tspan></text></g>
<g id="n-LCD"><rect class="b w" x="4911" y="755.5" width="158" height="49"/><text x="4990" y="784">lung cell differentiation</text></g>
<g id="n-GECD"><rect class="b w" x="5094" y="755.5" width="132" height="49"/><text x="5160" y="776.5">glandular epithelial<tspan x="5160" dy="15">cell differentiation</tspan></text></g>
<g id="n-CCECDEV"><rect class="b w" x="5248" y="755.5" width="130" height="49"/><text x="5313" y="769">columnar/cuboidal<tspan x="5313" dy="15">epithelial cell</tspan><tspan x="5313" dy="15">development</tspan></text></g>
<g id="n-LED"><rect class="b w" x="5400" y="755.5" width="108" height="49"/><text x="5454" y="776.5">lung epithelium<tspan x="5454" dy="15">development</tspan></text></g>
<g id="n-IECD"><rect class="b w" x="5533" y="755.5" width="131" height="49"/><text x="5598.5" y="776.5">intestinal epithelial<tspan x="5598.5" dy="15">cell differentiation</tspan></text></g>
<g id="n-LBD"><rect class="b w" x="5689" y="755.5" width="102" height="49"/><text x="5740" y="776.5">lobar bronchus<tspan x="5740" dy="15">development</tspan></text></g>
<g id="n-NATT"><rect class="b w" x="1305" y="861.5" width="155" height="49"/><text x="1382.5" y="882.5">nucleic acid-templated<tspan x="1382.5" dy="15">transcription</tspan></text></g>
<g id="n-RRNABSP"><rect class="b w" x="1653" y="861.5" width="118" height="49"/><text x="1712" y="875">regulation of<tspan x="1712" dy="15">RNA biosynthetic</tspan><tspan x="1712" dy="15">process</tspan></text></g>
<g id="n-NRRNAMP"><rect class="b w" x="1994" y="861.5" width="134" height="49"/><text x="2061" y="875">negative regulation<tspan x="2061" dy="15">of RNA metabolic</tspan><tspan x="2061" dy="15">process</tspan></text></g>
<g id="n-PRRNAMP"><rect class="b w" x="2152" y="861.5" width="128" height="49"/><text x="2216" y="875">positive regulation<tspan x="2216" dy="15">of RNA metabolic</tspan><tspan x="2216" dy="15">process</tspan></text></g>
<g id="n-LECD"><rect class="b w" x="4963" y="861.5" width="125" height="49"/><text x="5025.5" y="882.5">lung epithelial<tspan x="5025.5" dy="15">cell differentiation</tspan></text></g>
<g id="n-GECDEV"><rect class="b cb" x="5189" y="861.5" width="131" height="49"/><text x="5254.5" y="882.5">glandular epithelial<tspan x="5254.5" dy="15">cell development</tspan></text></g>
<g id="n-IECDEV"><rect class="b cb" x="5344" y="861.5" width="132" height="49"/><text x="5410" y="882.5">intestinal epithelial<tspan x="5410" dy="15">cell development</tspan></text></g>
<g id="n-LBED"><rect class="b w" x="5501" y="861.5" width="166" height="49"/><text x="5584" y="882.5">lobar bronchus<tspan x="5584" dy="15">epithelium development</tspan></text></g>
<g id="n-DTT"><rect class="b w" x="1073" y="960.5" width="107" height="49"/><text x="1126.5" y="981.5">DNA-templated<tspan x="1126.5" dy="15">transcription</tspan></text></g>
<g id="n-RNATT"><rect class="b w" x="1404" y="960.5" width="155" height="49"/><text x="1481.5" y="974">regulation of<tspan x="1481.5" dy="15">nucleic acid-templated</tspan><tspan x="1481.5" dy="15">transcription</tspan></text></g>
<g id="n-NRRNABSP"><rect class="b w" x="1634" y="960.5" width="134" height="49"/><text x="1701" y="974">negative regulation<tspan x="1701" dy="15">of RNA biosynthetic</tspan><tspan x="1701" dy="15">process</tspan></text></g>
<g id="n-PRRNABSP"><rect class="b w" x="1792" y="960.5" width="135" height="49"/><text x="1859.5" y="974">positive regulation<tspan x="1859.5" dy="15">of RNA biosynthetic</tspan><tspan x="1859.5" dy="15">process</tspan></text></g>
<g id="n-LSCD"><rect class="b w" x="4971" y="960.5" width="125" height="49"/><text x="5033.5" y="981.5">lung secretory<tspan x="5033.5" dy="15">cell differentiation</tspan></text></g>
<g id="n-TRP2"><rect class="b cb" x="939" y="1059.5" width="135" height="49"/><text x="1006.5" y="1073">transcription<tspan x="1006.5" dy="15">by RNA polymerase</tspan><tspan x="1006.5" dy="15">II</tspan></text></g>
<g id="n-RDTT"><rect class="b lb" x="1208" y="1059.5" width="106" height="49"/><text x="1261" y="1073">regulation of<tspan x="1261" dy="15">DNA-templated</tspan><tspan x="1261" dy="15">transcription</tspan></text></g>
<g id="n-NRNATT"><rect class="b w" x="1339" y="1059.5" width="172" height="49"/><text x="1425" y="1073">negative regulation<tspan x="1425" dy="15">of nucleic acid-templated</tspan><tspan x="1425" dy="15">transcription</tspan></text></g>
<g id="n-PRNATT"><rect class="b w" x="1536" y="1059.5" width="171" height="49"/><text x="1621.5" y="1073">positive regulation<tspan x="1621.5" dy="15">of nucleic acid-templated</tspan><tspan x="1621.5" dy="15">transcription</tspan></text></g>
<g id="n-LGCD"><rect class="b cb" x="5088" y="1059.5" width="125" height="49"/><text x="5150.5" y="1080.5">lung goblet<tspan x="5150.5" dy="15">cell differentiation</tspan></text></g>
<g id="n-RTRP2"><rect class="b lb" x="1041" y="1157.5" width="134" height="63"/><text x="1108" y="1170.5">regulation of<tspan x="1108" dy="15">transcription</tspan><tspan x="1108" dy="15">by RNA polymerase</tspan><tspan x="1108" dy="15">II</tspan></text></g>
<g id="n-NRDTT"><rect class="b w" x="1199" y="1164.5" width="134" height="49"/><text x="1266" y="1178">negative regulation<tspan x="1266" dy="15">of DNA-templated</tspan><tspan x="1266" dy="15">transcription</tspan></text></g>
<g id="n-PRDTT"><rect class="b w" x="1357" y="1164.5" width="128" height="49"/><text x="1421" y="1178">positive regulation<tspan x="1421" dy="15">of DNA-templated</tspan><tspan x="1421" dy="15">transcription</tspan></text></g>
<g id="n-NRTRP2"><rect class="b cb" x="962" y="1269.5" width="135" height="63"/><text x="1029.5" y="1282.5">negative regulation<tspan x="1029.5" dy="15">of transcription</tspan><tspan x="1029.5" dy="15">by RNA polymerase</tspan><tspan x="1029.5" dy="15">II</tspan></text></g>
<g id="n-PRTRP2"><rect class="b cb" x="1121" y="1269.5" width="134" height="63"/><text x="1188" y="1282.5">positive regulation<tspan x="1188" dy="15">of transcription</tspan><tspan x="1188" dy="15">by RNA polymerase</tspan><tspan x="1188" dy="15">II</tspan></text></g>
</g>
</svg>
